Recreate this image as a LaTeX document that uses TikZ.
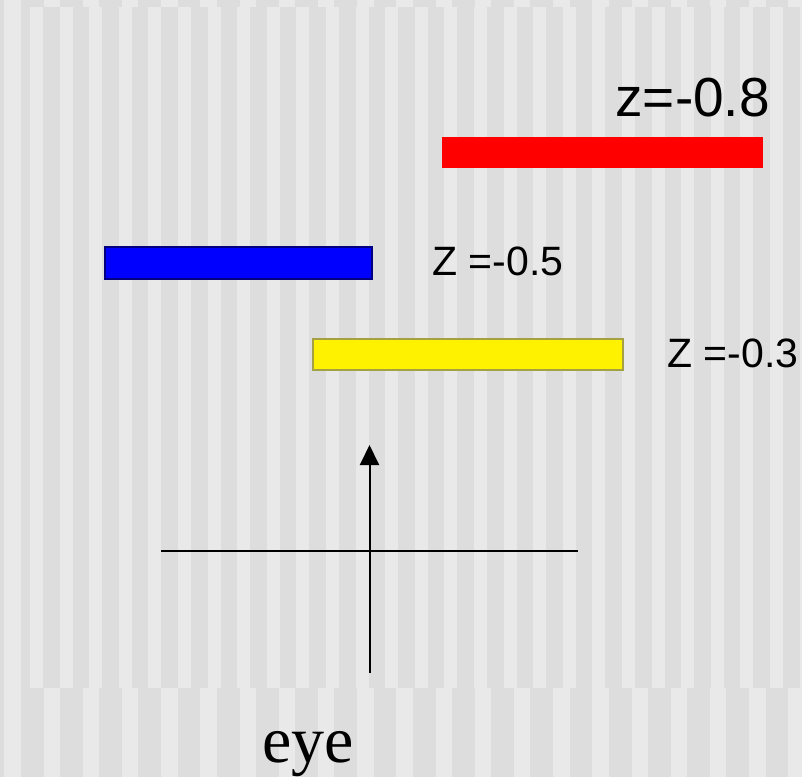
\documentclass[tikz,border=0pt]{standalone}
\usepackage{fontspec}
\setmainfont{Liberation Sans}
\newfontfamily\eyefont{Liberation Serif}
\usetikzlibrary{arrows.meta}
\definecolor{stripedark}{HTML}{DDDDDD}
\definecolor{stripelight}{HTML}{E9E9E9}

\begin{document}
\begin{tikzpicture}[
  x=0.5pt, y=-0.5pt,
  bar/.style={inner sep=0pt, anchor=north west, line width=1pt},
  lbl/.style={inner sep=0pt, anchor=base west},
  arr/.style={-{Triangle[length=10pt, width=9.5pt]}, line width=1pt}
]
\useasboundingbox (0,0) rectangle (802,777);
\fill[stripedark] (0,0) rectangle (802,777);
\foreach \i in {-1,...,19}
  \fill[stripelight] ({43.5+39.2*\i},0) rectangle +(16.5,777);
\fill[stripedark] (27,7.3) rectangle (802,688);
\foreach \i in {0,...,26}
  \fill[stripelight] ({30+29.6*\i},7.3) rectangle +(13,680.7);

\node[bar, fill=red, minimum width=160.5pt, minimum height=15.5pt] (far) at (441,136) {};
\node[bar, draw=blue!50!black, fill=blue, minimum width=133.5pt, minimum height=16pt] (mid) at (104,246) {};
\node[bar, draw=yellow!60!black, fill=yellow, minimum width=155pt, minimum height=15.5pt] (near) at (312,338) {};

\node[lbl, font=\fontsize{27.5}{32}\selectfont] (zfar) at (615,116) {z=-0.8};
\node[lbl, font=\fontsize{20.5}{24}\selectfont] (zmid) at (432,275) {Z =-0.5};
\node[lbl, font=\fontsize{20.5}{24}\selectfont] (znear) at (667,367) {Z =-0.3};
\node[lbl, font=\eyefont\fontsize{33}{38}\selectfont] (eye) at (262,762) {eye};

\coordinate (hl) at (161,550.7);
\coordinate (hr) at (578,550.7);
\coordinate (base) at (369.5,673);
\coordinate (tip) at (369.5,445);
\draw[line width=1pt] (hl) -- (hr);
\draw[arr] (base) -- (tip);
\end{tikzpicture}
\end{document}
